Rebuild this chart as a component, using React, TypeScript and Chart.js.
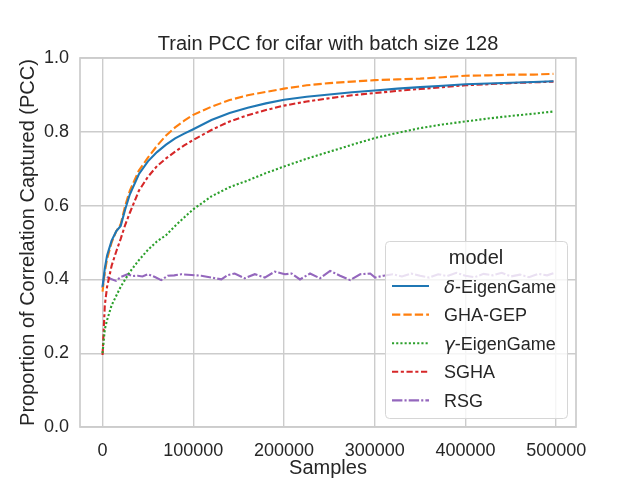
import { useEffect, useRef } from "react";
import { Chart, registerables, Plugin } from "chart.js";

Chart.register(...registerables);

const FONT = "'Liberation Sans', Arial, sans-serif";
const TEXT = "#262626";
const GRID = "#cccccc";

const titleText = "Train PCC for cifar with batch size 128";
const xLabel = "Samples";
const yLabel = "Proportion of Correlation Captured (PCC)";
const legendTitle = "model";

// x positions of the smooth curves
const samples = [
  0, 2500, 5000, 10000, 15000, 20000, 25000, 30000, 40000, 50000, 60000, 70000,
  80000, 90000, 100000, 120000, 140000, 160000, 180000, 200000, 225000, 250000,
  275000, 300000, 325000, 350000, 375000, 400000, 425000, 450000, 475000, 497000,
];

const deltaEigenGame = [
  0.38, 0.43, 0.465, 0.505, 0.53, 0.545, 0.59, 0.63, 0.685, 0.72, 0.745, 0.765,
  0.782, 0.795, 0.807, 0.832, 0.851, 0.865, 0.877, 0.887, 0.895, 0.901, 0.907,
  0.912, 0.917, 0.921, 0.925, 0.929, 0.931, 0.933, 0.935, 0.937,
];

const ghaGep = [
  0.367, 0.42, 0.455, 0.5, 0.53, 0.55, 0.6, 0.64, 0.695, 0.73, 0.762, 0.79,
  0.812, 0.83, 0.846, 0.868, 0.886, 0.899, 0.908, 0.917, 0.926, 0.932, 0.936,
  0.94, 0.942, 0.944, 0.948, 0.952, 0.953, 0.955, 0.955, 0.957,
];

const gammaEigenGame = [
  0.2, 0.265, 0.29, 0.33, 0.355, 0.38, 0.4, 0.42, 0.452, 0.48, 0.503, 0.52,
  0.545, 0.568, 0.59, 0.625, 0.65, 0.668, 0.688, 0.706, 0.727, 0.746, 0.765,
  0.783, 0.797, 0.81, 0.82, 0.828, 0.836, 0.843, 0.849, 0.855,
];

const sgha = [
  0.195, 0.33, 0.38, 0.437, 0.475, 0.51, 0.548, 0.58, 0.64, 0.678, 0.707, 0.728,
  0.746, 0.763, 0.778, 0.805, 0.828, 0.845, 0.859, 0.871, 0.882, 0.891, 0.899,
  0.905, 0.911, 0.916, 0.921, 0.926, 0.929, 0.932, 0.934, 0.936,
];

// RSG is noisy, so it has its own denser x positions
const rsgSamples = [
  0, 1900, 7400, 14800, 20400, 27700, 33000, 38700, 44000, 49800, 57200, 64600,
  71900, 79000, 86700, 97800, 108800, 119900, 131000, 138300, 145700, 156700,
  167800, 178800, 189900, 200900, 208400, 217600, 228700, 239700, 250800,
  261800, 272900, 283900, 295000, 300500, 309700, 320000, 330000, 340000,
  350000, 360000, 370000, 380000, 390000, 400000, 410000, 420000, 430000,
  440000, 450000, 460000, 470000, 480000, 490000, 497000,
];

const rsg = [
  0.376, 0.412, 0.403, 0.396, 0.407, 0.414, 0.409, 0.41, 0.408, 0.414, 0.407,
  0.398, 0.41, 0.411, 0.414, 0.412, 0.41, 0.405, 0.4, 0.412, 0.416, 0.403,
  0.414, 0.405, 0.421, 0.414, 0.416, 0.4, 0.416, 0.403, 0.423, 0.41, 0.398,
  0.414, 0.416, 0.405, 0.41, 0.414, 0.408, 0.416, 0.41, 0.405, 0.414, 0.409,
  0.418, 0.41, 0.406, 0.415, 0.411, 0.418, 0.408, 0.413, 0.406, 0.415, 0.411,
  0.417,
];

const xTicks = [0, 100000, 200000, 300000, 400000, 500000];
const yTicks = [0, 0.2, 0.4, 0.6, 0.8, 1.0];

const series = [
  { sym: "δ", rest: "-EigenGame", xs: samples, ys: deltaEigenGame, color: "#1f77b4", dash: [] as number[] },
  { sym: "", rest: "GHA-GEP", xs: samples, ys: ghaGep, color: "#ff7f0e", dash: [8.3, 3.1] },
  { sym: "γ", rest: "-EigenGame", xs: samples, ys: gammaEigenGame, color: "#2ca02c", dash: [2.1, 2.1] },
  { sym: "", rest: "SGHA", xs: samples, ys: sgha, color: "#d62728", dash: [6.2, 2.6, 3.1, 2.6] },
  { sym: "", rest: "RSG", xs: rsgSamples, ys: rsg, color: "#9467bd", dash: [10.4, 2.1, 2.1, 2.1] },
];

const decor: Plugin = {
  id: "decor",
  afterDraw(chart) {
    const ctx = chart.ctx;
    const a = chart.chartArea;
    ctx.save();

    // spines all round
    ctx.strokeStyle = GRID;
    ctx.lineWidth = 1.7;
    ctx.setLineDash([]);
    ctx.strokeRect(a.left, a.top, a.right - a.left, a.bottom - a.top);

    // title
    ctx.fillStyle = TEXT;
    ctx.font = `20px ${FONT}`;
    ctx.textAlign = "center";
    ctx.textBaseline = "alphabetic";
    ctx.fillText(titleText, (a.left + a.right) / 2, 49.5);

    // legend box
    const bx = 385.5, by = 241.5, bw = 182, bh = 177, r = 4;
    ctx.beginPath();
    ctx.moveTo(bx + r, by);
    ctx.lineTo(bx + bw - r, by);
    ctx.arcTo(bx + bw, by, bx + bw, by + r, r);
    ctx.lineTo(bx + bw, by + bh - r);
    ctx.arcTo(bx + bw, by + bh, bx + bw - r, by + bh, r);
    ctx.lineTo(bx + r, by + bh);
    ctx.arcTo(bx, by + bh, bx, by + bh - r, r);
    ctx.lineTo(bx, by + r);
    ctx.arcTo(bx, by, bx + r, by, r);
    ctx.closePath();
    ctx.fillStyle = "rgba(255,255,255,0.8)";
    ctx.fill();
    ctx.strokeStyle = "#d6d6d6";
    ctx.lineWidth = 1;
    ctx.stroke();

    ctx.fillStyle = TEXT;
    ctx.font = `20px ${FONT}`;
    ctx.fillText(legendTitle, 476, 264);

    ctx.textAlign = "left";
    series.forEach((s, i) => {
      const base = 292.5 + i * 28.6;
      const ly = base - 6.5;
      ctx.beginPath();
      ctx.strokeStyle = s.color;
      ctx.lineWidth = 2.1;
      ctx.setLineDash(s.dash);
      ctx.moveTo(392, ly);
      ctx.lineTo(429, ly);
      ctx.stroke();
      ctx.setLineDash([]);

      let tx = 444;
      ctx.fillStyle = TEXT;
      if (s.sym) {
        ctx.font = `italic 18px 'DejaVu Sans', sans-serif`;
        ctx.fillText(s.sym, tx, base);
        tx += ctx.measureText(s.sym).width;
      }
      ctx.font = `18px ${FONT}`;
      ctx.fillText(s.rest, tx, base);
    });

    ctx.restore();
  },
};

export default function App() {
  const canvasRef = useRef<HTMLCanvasElement | null>(null);

  useEffect(() => {
    document.body.style.margin = "0";
    if (!canvasRef.current) return;

    const chart = new Chart(canvasRef.current, {
      type: "line",
      data: {
        datasets: series.map((s) => ({
          label: s.sym + s.rest,
          data: s.xs.map((x, i) => ({ x, y: s.ys[i] })),
          borderColor: s.color,
          backgroundColor: s.color,
          borderWidth: 2.1,
          borderDash: s.dash,
          pointRadius: 0,
          fill: false,
          tension: 0,
        })),
      },
      options: {
        responsive: false,
        animation: false,
        layout: { padding: { top: 58, right: 64, left: 0, bottom: 0 } },
        plugins: {
          legend: { display: false },
          title: { display: false },
          tooltip: { enabled: false },
        },
        scales: {
          x: {
            type: "linear",
            min: -24850,
            max: 521850,
            afterBuildTicks: (s) => {
              s.ticks = xTicks.map((v) => ({ value: v }));
            },
            afterFit: (s) => {
              s.height = 53;
            },
            grid: { color: GRID, lineWidth: 1.4, drawTicks: false },
            border: { display: false },
            ticks: {
              color: TEXT,
              font: { family: FONT, size: 18 },
              padding: 13,
              autoSkip: false,
              maxRotation: 0,
              callback: (v) => String(v),
            },
            title: {
              display: true,
              text: xLabel,
              color: TEXT,
              font: { family: FONT, size: 20 },
              padding: 0,
            },
          },
          y: {
            type: "linear",
            min: 0,
            max: 1,
            afterBuildTicks: (s) => {
              s.ticks = yTicks.map((v) => ({ value: v }));
            },
            afterFit: (s) => {
              s.width = 80;
            },
            grid: { color: GRID, lineWidth: 1.4, drawTicks: false },
            border: { display: false },
            ticks: {
              color: TEXT,
              font: { family: FONT, size: 18 },
              padding: 11,
              callback: (v) => Number(v).toFixed(1),
            },
            title: {
              display: true,
              text: yLabel,
              color: TEXT,
              font: { family: FONT, size: 20 },
              padding: { top: 16, bottom: 0 },
            },
          },
        },
      },
      plugins: [decor],
    });

    return () => {
      chart.destroy();
    };
  }, []);

  return (
    <div style={{ width: 640, height: 480 }}>
      <canvas ref={canvasRef} width={640} height={480} />
    </div>
  );
}
